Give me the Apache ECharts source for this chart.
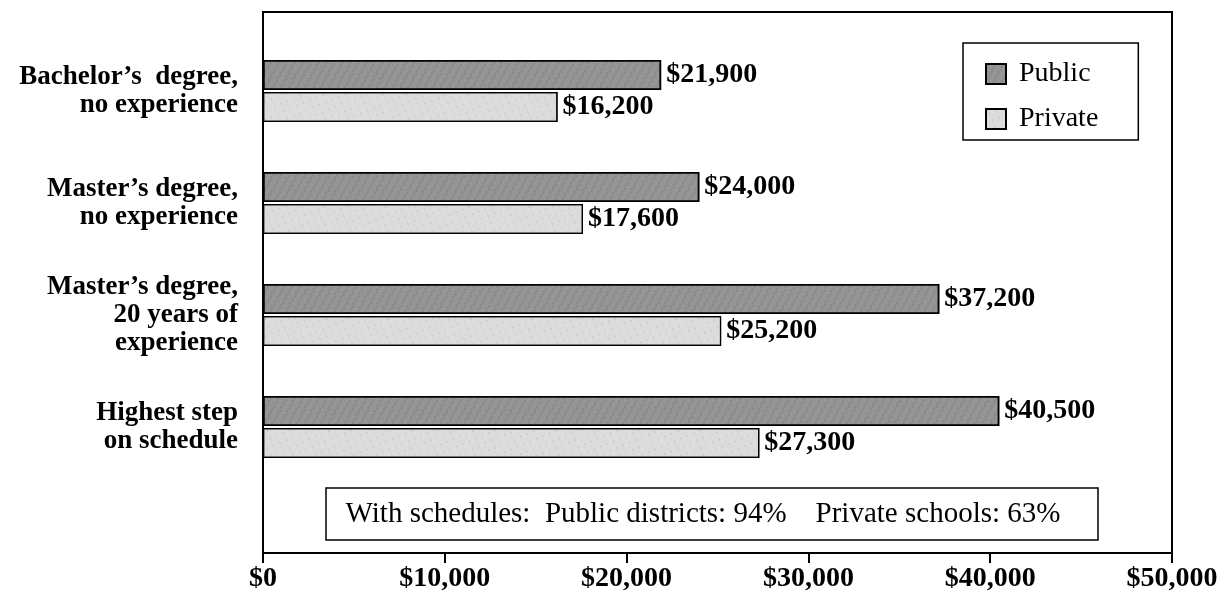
<!DOCTYPE html>
<html>
<head>
<meta charset="utf-8">
<script src="https://cdn.jsdelivr.net/npm/echarts@6/dist/echarts.min.js"></script>
<style>
  html, body { margin: 0; padding: 0; background: #fff; }
  #chart { width: 1226px; height: 614px; }
</style>
</head>
<body>
<div id="chart"></div>
<script>
const categories = [
  'Bachelor\u2019s  degree,\nno experience',
  'Master\u2019s degree,\nno experience',
  'Master\u2019s degree,\n20 years of\nexperience',
  'Highest step\non schedule'
]
const publicSalary = [21900, 24000, 37200, 40500]
const privateSalary = [16200, 17600, 25200, 27300]
const xTicks = [0, 10000, 20000, 30000, 40000, 50000]
const noteText = 'With schedules:  Public districts: 94%    Private schools: 63%'

const serif = '"Liberation Serif", "Times New Roman", serif'
const money = v => '$' + v.toLocaleString('en-US')

const chart = echarts.init(document.getElementById('chart'))

const valueLabel = {
  show: true,
  position: 'right',
  distance: 5,
  color: '#000',
  fontFamily: serif,
  fontWeight: 'bold',
  fontSize: 28,
  formatter: p => money(p.value)
}

const option = {
  animation: false,
  backgroundColor: '#fff',
  grid: {
    left: 263,
    right: 54,
    top: 35,
    bottom: 131
  },
  legend: {
    data: ['Public', 'Private'],
    orient: 'vertical',
    left: 963,
    top: 43,
    padding: [17, 40, 7, 22],
    itemGap: 17,
    itemWidth: 20,
    itemHeight: 20,
    icon: 'rect',
    borderColor: '#000',
    borderWidth: 1.5,
    borderRadius: 0,
    textStyle: {
      fontFamily: serif,
      fontSize: 28,
      color: '#000',
      padding: [0, 0, 0, 8]
    }
  },
  xAxis: {
    type: 'value',
    min: 0,
    max: 50000,
    interval: 10000,
    offset: 70,
    axisLine: { show: false },
    axisTick: {
      show: true,
      length: 10,
      lineStyle: { color: '#000', width: 2 }
    },
    splitLine: { show: false },
    axisLabel: {
      margin: 12,
      color: '#000',
      fontFamily: serif,
      fontWeight: 'bold',
      fontSize: 28,
      formatter: v => xTicks.includes(v) ? money(v) : ''
    }
  },
  yAxis: {
    type: 'category',
    inverse: true,
    data: categories,
    axisLine: { show: false },
    axisTick: { show: false },
    axisLabel: {
      margin: 25,
      color: '#000',
      fontFamily: serif,
      fontWeight: 'bold',
      fontSize: 27,
      lineHeight: 28,
      align: 'right'
    }
  },
  series: [
    {
      name: 'Public',
      type: 'bar',
      data: publicSalary,
      barWidth: 30,
      barGap: '7%',
      itemStyle: {
        color: '#959595',
        borderColor: '#000',
        borderWidth: 1.5,
        decal: {
          symbol: 'circle',
          symbolSize: 0.6,
          color: 'rgba(0,0,0,0.45)',
          dashArrayX: [[4, 3], [2, 5]],
          dashArrayY: [2, 1],
          rotation: 0.5
        }
      },
      label: valueLabel
    },
    {
      name: 'Private',
      type: 'bar',
      data: privateSalary,
      barWidth: 30,
      itemStyle: {
        color: '#dcdcdc',
        borderColor: '#000',
        borderWidth: 1.2,
        decal: {
          symbol: 'circle',
          symbolSize: 0.5,
          color: 'rgba(0,0,0,0.3)',
          dashArrayX: [[3, 4], [1, 6]],
          dashArrayY: [2, 2],
          rotation: -0.4
        }
      },
      label: valueLabel
    }
  ],
  graphic: [
    {
      // plot frame
      type: 'rect',
      shape: { x: 263, y: 12, width: 909, height: 541 },
      style: { fill: null, stroke: '#000', lineWidth: 2 },
      silent: true,
      z: 10
    },
    {
      type: 'rect',
      shape: { x: 326, y: 488, width: 772, height: 52 },
      style: { fill: '#fff', stroke: '#000', lineWidth: 1.5 },
      z: 10
    },
    {
      type: 'text',
      x: 703,
      y: 514,
      style: {
        text: noteText,
        fontFamily: serif,
        fontSize: 29,
        fill: '#000',
        align: 'center',
        verticalAlign: 'middle'
      },
      z: 11
    }
  ]
}

chart.setOption(option)
</script>
</body>
</html>
